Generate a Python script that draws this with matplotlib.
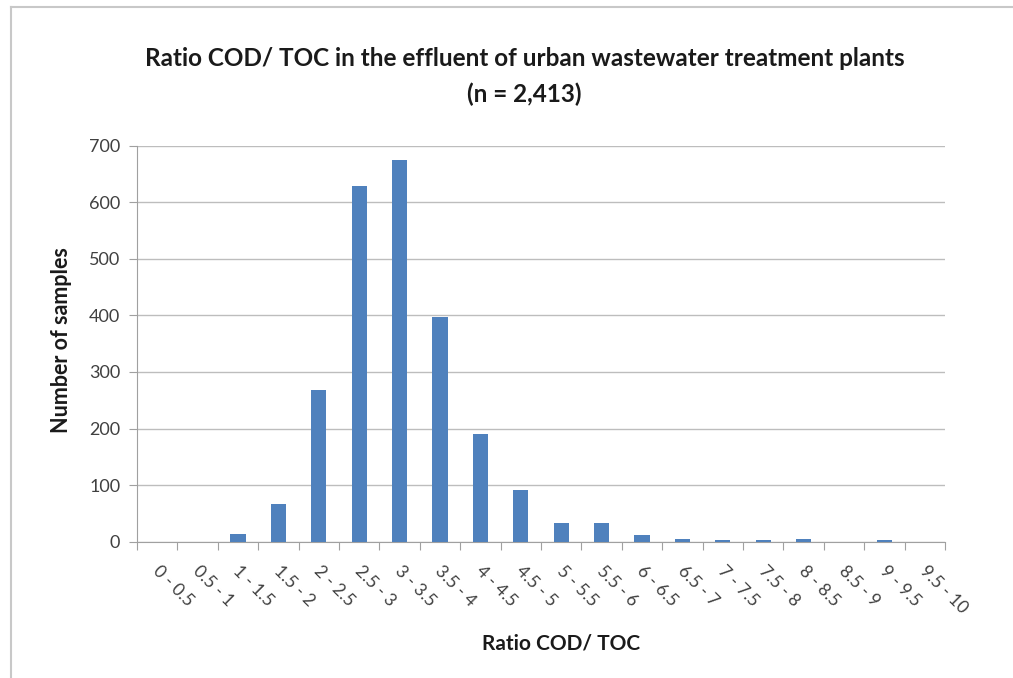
import matplotlib
matplotlib.use("Agg")
import matplotlib.pyplot as plt
from matplotlib.lines import Line2D
import numpy as np

categories = ["0 - 0.5", "0.5 - 1", "1 - 1.5", "1.5 - 2", "2 - 2.5", "2.5 - 3", "3 - 3.5",
              "3.5 - 4", "4 - 4.5", "4.5 - 5", "5 - 5.5", "5.5 - 6", "6 - 6.5", "6.5 - 7",
              "7 - 7.5", "7.5 - 8", "8 - 8.5", "8.5 - 9", "9 - 9.5", "9.5 - 10"]
counts = [0, 0, 14, 67, 268, 629, 675, 397, 191, 92, 32, 32, 12, 4, 2, 2, 4, 0, 2, 0]
yticks = [0, 100, 200, 300, 400, 500, 600, 700]

title = "Ratio COD/ TOC in the effluent of urban wastewater treatment plants\n(n = 2,413)"
xlabel = "Ratio COD/ TOC"
ylabel = "Number of samples"

plt.rcParams['font.family'] = ['Lato', 'DejaVu Sans']

fig = plt.figure(figsize=(10.13, 6.78), dpi=100)
ax = fig.add_axes([0.1352, 0.2013, 0.9329 - 0.1352, 0.7847 - 0.2013])

x = np.arange(len(categories))
ax.bar(x, counts, width=0.38, color="#4f81bd", zorder=3)

ax.set_xlim(-0.5, len(categories) - 0.5)
ax.set_ylim(0, 700)
ax.set_yticks(yticks)
ax.set_yticklabels([str(v) for v in yticks], fontsize=13, color="#404040")
ax.yaxis.grid(True, color="#bdbdbd", linewidth=1.0, zorder=0)
ax.tick_params(axis='y', length=6, color="#a0a0a0", pad=6)

# category tick marks at boundaries
ax.set_xticks(np.arange(len(categories) + 1) - 0.5)
ax.set_xticklabels([])
ax.tick_params(axis='x', length=6, color="#a0a0a0", direction='out')
for xi, lab in zip(x, categories):
    ax.text(xi - 0.05, -0.068, lab, transform=ax.get_xaxis_transform(),
            rotation=-45, rotation_mode='anchor', ha='left', va='center',
            fontsize=12.5, color="#404040")

for s in ["top", "right"]:
    ax.spines[s].set_visible(False)
ax.spines["left"].set_color("#a0a0a0")
ax.spines["bottom"].set_color("#a0a0a0")

fig.text(0.518, 0.914, "Ratio COD/ TOC in the effluent of urban wastewater treatment plants",
         ha='center', va='center', fontsize=17.5, fontweight='bold', color="#1a1a1a")
fig.text(0.518, 0.861, "(n = 2,413)",
         ha='center', va='center', fontsize=17.5, fontweight='bold', color="#1a1a1a")
fig.text(0.554, 1 - 643 / 678, xlabel, ha='center', va='center', fontsize=15,
         fontweight='bold', color="#1a1a1a")
fig.text(62 / 1013, 1 - 340 / 678, ylabel, ha='center', va='center', rotation=90,
         fontsize=15.5, fontweight='bold', color="#1a1a1a")

# outer chart frame (top and left edges visible)
fig.add_artist(Line2D([11 / 1013, 1.0], [1 - 7 / 678, 1 - 7 / 678], color="#c8c8c8", lw=1.5,
                      transform=fig.transFigure))
fig.add_artist(Line2D([11 / 1013, 11 / 1013], [0, 1 - 7 / 678], color="#c8c8c8", lw=1.5,
                      transform=fig.transFigure))

fig.savefig("out.png", dpi=100)
